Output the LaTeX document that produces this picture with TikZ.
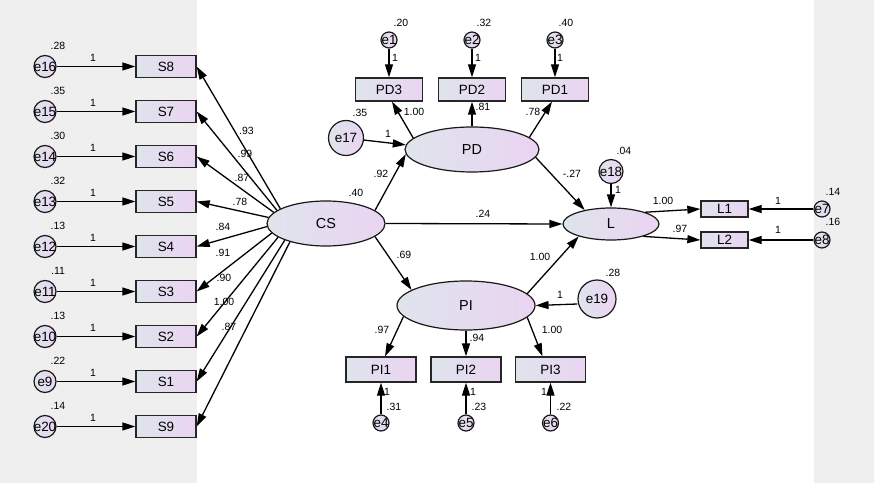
\documentclass[tikz,border=0pt]{standalone}
\usepackage{fontspec}
\setmainfont{Liberation Sans}
\usetikzlibrary{arrows.meta,shapes.geometric}
\definecolor{lc}{RGB}{222,228,236}
\definecolor{rc}{RGB}{234,212,242}
\definecolor{bgc}{RGB}{239,239,239}
\newcommand\zw[1]{\makebox[0pt]{#1}}
\tikzset{
  obs/.style={rectangle,draw=black!85,line width=1.3bp,left color=lc,right color=rc,
    minimum width=60bp,minimum height=22bp,inner sep=0pt,font=\fontsize{13.5}{15}\selectfont},
  lat/.style={ellipse,draw=black!90,line width=1.2bp,left color=lc,right color=rc,
    inner sep=0pt,font=\fontsize{14.5}{16}\selectfont},
  err/.style={circle,draw=black!90,line width=1.2bp,left color=lc,right color=rc,
    inner sep=0pt,font=\fontsize{13.5}{15}\selectfont},
  num/.style={inner sep=0pt,font=\fontsize{10.5}{12}\selectfont},
  arr/.style={-{Triangle[length=13bp,width=8bp]},line width=1.3bp,black}
}
\begin{document}
\begin{tikzpicture}[x=1bp,y=-1bp]
\useasboundingbox (0,0) rectangle (874,483);
\fill[white] (0,0) rectangle (874,483);
\fill[bgc] (0,0) rectangle (197,483);
\fill[bgc] (814,0) rectangle (874,483);

% latent variables
\node[lat,minimum width=118bp,minimum height=45bp] (CS) at (326,223.5) {CS};
\node[lat,minimum width=134bp,minimum height=45bp] (PD) at (472,149.5) {PD};
\node[lat,minimum width=138bp,minimum height=49bp] (PI) at (466,305.5) {PI};
\node[lat,minimum width=96bp,minimum height=32bp] (L) at (611,224) {L};

% left column
\foreach \e/\s/\v [count=\i from 0] in {e16/S8/.28,e15/S7/.35,e14/S6/.30,e13/S5/.32,e12/S4/.13,e11/S3/.11,e10/S2/.13,e9/S1/.22,e20/S9/.14}{
  \pgfmathsetmacro\yy{66.5+45*\i}
  \node[err,minimum size=22bp] (\e) at (45,\yy) {\zw{\e}};
  \node[obs] (\s) at (166,\yy) {\s};
  \node[num] (v\e) at (58,\yy-20.5) {\v};
  \node[num] (o\e) at (93,\yy-9) {1};
  \draw[arr] (\e) -- (\s);
}
\foreach \s/\a in {S8/162,S7/165,S6/168,S5/174,S4/183,S3/190,S2/196,S1/202,S9/207}{
  \draw[arr] (CS.\a) -- (\s.east);
}

% PD block
\node[obs,minimum width=67bp,minimum height=23bp] (PD3) at (389,89.5) {PD3};
\node[obs,minimum width=67bp,minimum height=23bp] (PD2) at (472,89.5) {PD2};
\node[obs,minimum width=67bp,minimum height=23bp] (PD1) at (555,89.5) {PD1};
\node[err,minimum size=16bp] (e1) at (389,40) {\zw{e1}};
\node[err,minimum size=16bp] (e2) at (472,40) {\zw{e2}};
\node[err,minimum size=16bp] (e3) at (555,40) {\zw{e3}};
\node[err,minimum size=35bp] (e17) at (346,138) {\zw{e17}};

% PI block
\node[obs,minimum width=70bp,minimum height=25bp] (PI1) at (381,369.5) {PI1};
\node[obs,minimum width=70bp,minimum height=25bp] (PI2) at (466,369.5) {PI2};
\node[obs,minimum width=70bp,minimum height=25bp] (PI3) at (550.5,369.5) {PI3};
\node[err,minimum size=16bp] (e4) at (381,423) {\zw{e4}};
\node[err,minimum size=16bp] (e5) at (466,423) {\zw{e5}};
\node[err,minimum size=16bp] (e6) at (550.5,423) {\zw{e6}};
\node[err,minimum size=38bp] (e19) at (597,299) {\zw{e19}};

% L block
\node[err,minimum size=24bp] (e18) at (611,171.5) {\zw{e18}};
\node[obs,minimum width=47bp,minimum height=16bp] (L1) at (724.5,209) {L1};
\node[obs,minimum width=47bp,minimum height=16bp] (L2) at (724.5,240) {L2};
\node[err,minimum size=16bp] (e7) at (822,209) {\zw{e7}};
\node[err,minimum size=16bp] (e8) at (822,240) {\zw{e8}};

% connectors
\draw[arr] (e1) -- (PD3);
\draw[arr] (e2) -- (PD2);
\draw[arr] (e3) -- (PD1);
\draw[arr] (PD.169) -- ([xshift=3bp]PD3.south);
\draw[arr] (PD.north) -- (PD2.south);
\draw[arr] (PD.12) -- ([xshift=-3bp]PD1.south);
\draw[arr] (e17) -- (PD.176);
\draw[arr] (CS.15) -- (PD.184);
\draw[arr] (CS.east) -- (L.west);
\draw[arr] (CS.345) -- (PI.164);
\draw[arr] (PD.353) -- (L.152);
\draw[arr] (e18) -- (L.north);
\draw[arr] (PI.11.5) -- (L.201);
\draw[arr] ([yshift=-5bp]e19.west) -- (PI.east);
\draw[arr] (PI.190.6) -- ([xshift=4bp]PI1.north);
\draw[arr] (PI.south) -- (PI2.north);
\draw[arr] (PI.349.4) -- ([xshift=-8bp]PI3.north);
\draw[arr] (e4) -- (PI1);
\draw[arr] (e5) -- (PI2);
\draw[arr] (e6) -- (PI3);
\draw[arr] (L.19) -- (L1.west);
\draw[arr] (L.339) -- (L2.west);
\draw[arr] (e7) -- (L1);
\draw[arr] (e8) -- (L2);

% numeric labels
\foreach \t/\x/\y [count=\k] in {
  .20/401/22.5, .32/484/22.5, .40/566/22.5, 1/395/57.5, 1/478/57.5, 1/560/57.5,
  .35/360/112.5, 1.00/414/111.5, .81/483/107, .78/533/111.5, 1/388/134, .92/381/174, -.27/572/173.5,
  .40/356/193, .24/483/214, .69/404/255,
  .04/624/150.5, 1/618/190, 1.00/663/200.5, .97/680/229, 1/778/200.5, 1/778/230, .14/833/192, .16/833/222,
  1.00/540/257, .28/613/272.5, 1/560/294.5, .97/382/330, .94/477/337.5, 1.00/552/330,
  1/387/391.5, .31/394/406.5, 1/473/391.5, .23/479/406.5, 1/544/391.5, .22/564/406.5,
  .93/246.5/130.5, .99/245/154, .87/242/178, .78/240/202, .84/223/227, .91/223/253, .90/224/278, 1.00/224/302, .87/229/327}{
  \node[num] (n\k) at (\x,\y) {\t};
}
\end{tikzpicture}
\end{document}
